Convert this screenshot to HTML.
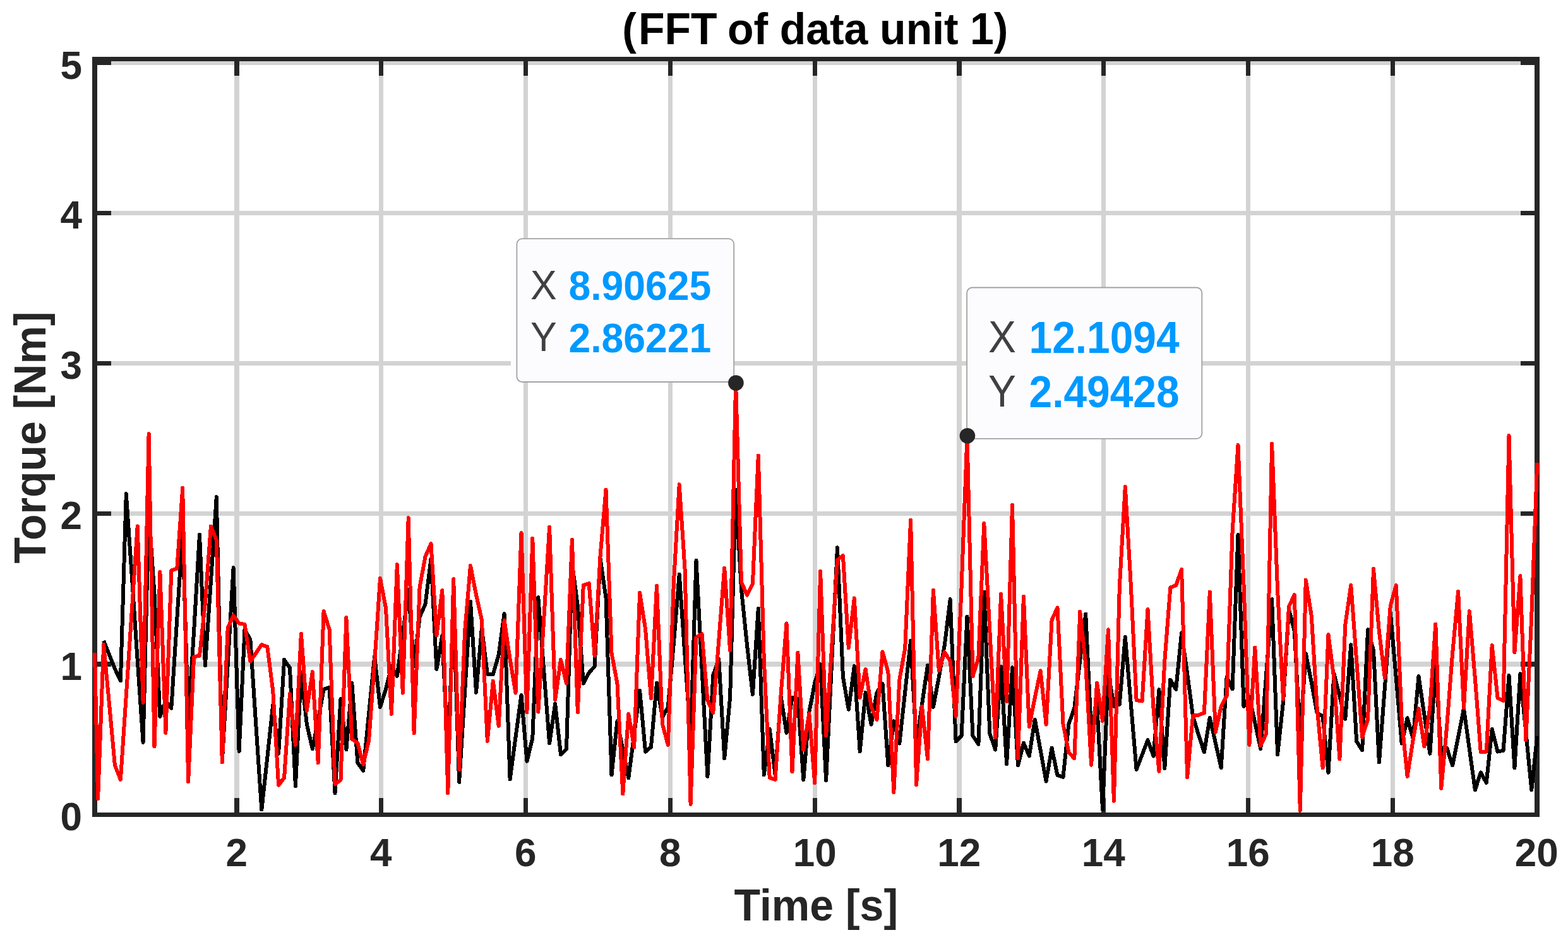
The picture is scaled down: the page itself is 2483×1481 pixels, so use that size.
<!DOCTYPE html>
<html lang="en"><head><meta charset="utf-8"><title>FFT of data unit 1</title>
<style>html,body{margin:0;padding:0;background:#fff}body{width:2483px;height:1481px;overflow:hidden}svg{display:block}text{font-family:"Liberation Sans",sans-serif}.b{font-weight:bold}</style>
</head><body>
<svg width="2483" height="1481" viewBox="0 0 2483 1481">
<rect width="2483" height="1481" fill="#fff"/>
<g shape-rendering="crispEdges">
<g fill="#D3D3D3">
<rect x="371" y="97" width="8" height="1190"/>
<rect x="600" y="97" width="7" height="1190"/>
<rect x="829" y="97" width="7" height="1190"/>
<rect x="1058" y="97" width="7" height="1190"/>
<rect x="1287" y="97" width="7" height="1190"/>
<rect x="1515" y="97" width="8" height="1190"/>
<rect x="1744" y="97" width="7" height="1190"/>
<rect x="1973" y="97" width="7" height="1190"/>
<rect x="2202" y="97" width="7" height="1190"/>
<rect x="154" y="97" width="2276" height="6"/>
<rect x="154" y="334" width="2276" height="7"/>
<rect x="154" y="572" width="2276" height="7"/>
<rect x="154" y="810" width="2276" height="7"/>
<rect x="154" y="1048" width="2276" height="8"/>
</g>
</g>
<g shape-rendering="crispEdges" fill="#262626">
<rect x="146" y="90" width="2292" height="7"/>
<rect x="146" y="1287" width="2292" height="7"/>
<rect x="146" y="90" width="8" height="1204"/>
<rect x="2430" y="90" width="8" height="1204"/>
<rect x="371" y="1264" width="8" height="23"/>
<rect x="371" y="97" width="8" height="23"/>
<rect x="600" y="1264" width="7" height="23"/>
<rect x="600" y="97" width="7" height="23"/>
<rect x="829" y="1264" width="7" height="23"/>
<rect x="829" y="97" width="7" height="23"/>
<rect x="1058" y="1264" width="7" height="23"/>
<rect x="1058" y="97" width="7" height="23"/>
<rect x="1287" y="1264" width="7" height="23"/>
<rect x="1287" y="97" width="7" height="23"/>
<rect x="1515" y="1264" width="8" height="23"/>
<rect x="1515" y="97" width="8" height="23"/>
<rect x="1744" y="1264" width="7" height="23"/>
<rect x="1744" y="97" width="7" height="23"/>
<rect x="1973" y="1264" width="7" height="23"/>
<rect x="1973" y="97" width="7" height="23"/>
<rect x="2202" y="1264" width="7" height="23"/>
<rect x="2202" y="97" width="7" height="23"/>
<rect x="154" y="97" width="22" height="6"/>
<rect x="2408" y="97" width="22" height="6"/>
<rect x="154" y="334" width="22" height="7"/>
<rect x="2408" y="334" width="22" height="7"/>
<rect x="154" y="572" width="22" height="7"/>
<rect x="2408" y="572" width="22" height="7"/>
<rect x="154" y="810" width="22" height="7"/>
<rect x="2408" y="810" width="22" height="7"/>
<rect x="154" y="1048" width="22" height="8"/>
<rect x="2408" y="1048" width="22" height="8"/>
</g>
<g fill="none" stroke-width="6" stroke-linejoin="round" stroke-linecap="butt" shape-rendering="crispEdges">
<polyline stroke="#000" points="164.1,1015.0 173.0,1037.1 181.9,1059.3 190.9,1078.4 199.8,782.3 208.8,912.5 217.7,1045.6 226.6,1175.8 235.6,810.0 244.5,941.0 253.4,1135.0 262.4,1110.0 271.3,1121.8 280.3,980.8 289.2,839.8 298.1,1140.0 307.1,1000.0 316.0,846.8 324.9,1054.0 333.9,921.0 342.8,787.3 351.8,1206.0 360.7,1052.6 369.6,899.2 378.6,1190.0 387.5,997.5 396.4,1013.0 405.4,1149.2 414.3,1282.5 423.3,1199.8 432.2,1117.0 441.1,1193.8 450.1,1045.0 459.0,1058.0 467.9,1245.0 476.9,1065.0 485.8,1147.0 494.8,1186.3 503.7,1140.7 512.6,1092.0 521.6,1088.6 530.5,1256.3 539.5,1107.0 548.4,1187.5 557.3,1082.0 566.3,1208.0 575.2,1220.8 584.1,1130.4 593.1,1040.0 602.0,1120.0 611.0,1092.0 619.9,1055.0 628.8,1071.0 637.8,1005.0 646.7,934.0 655.6,1055.0 664.6,977.0 673.5,957.0 682.5,885.0 691.4,1060.0 700.3,1007.0 709.3,1197.0 718.2,963.0 727.1,1238.8 736.1,1095.7 745.0,952.5 754.0,1096.9 762.9,995.0 771.8,1067.6 780.8,1068.0 789.7,1037.0 798.6,972.0 807.6,1234.3 816.5,1167.7 825.5,1101.0 834.4,1205.8 843.3,1169.3 852.3,946.2 861.2,1061.8 870.1,1177.5 879.1,1114.8 888.0,1195.0 897.0,1186.8 905.9,892.0 914.8,959.5 923.8,1082.6 932.7,1065.6 941.6,1055.6 950.6,885.0 959.5,947.0 968.5,1227.5 977.4,1142.3 986.3,1187.4 995.3,1232.5 1004.2,1163.0 1013.1,1093.6 1022.1,1190.8 1031.0,1183.0 1040.0,1081.9 1048.9,1136.3 1057.8,1120.0 1066.8,1020.0 1075.7,909.7 1084.6,1039.3 1093.6,1169.0 1102.5,887.7 1111.5,1058.8 1120.4,1230.0 1129.3,1069.4 1138.3,1043.7 1147.2,1201.3 1156.1,1105.0 1165.1,776.0 1174.0,934.0 1183.0,1022.0 1191.9,1100.0 1200.8,963.7 1209.8,1227.5 1218.7,1154.8 1227.6,1227.0 1236.6,1103.0 1245.5,1160.8 1254.5,1104.9 1263.4,1107.0 1272.3,1235.0 1281.3,1128.0 1290.2,1082.0 1299.1,1052.4 1308.1,1236.3 1317.0,1051.8 1326.0,867.3 1334.9,1072.0 1343.8,1123.8 1352.8,1055.0 1361.7,1190.5 1370.6,1096.9 1379.6,1147.6 1388.5,1097.0 1397.5,1082.9 1406.4,1212.5 1415.3,1142.3 1424.3,1177.6 1433.2,1096.3 1442.1,1015.0 1451.1,1177.0 1460.0,1116.0 1469.0,1053.6 1477.9,1120.0 1486.8,1072.5 1495.8,1022.0 1504.7,949.2 1513.6,1174.3 1522.6,1165.6 1531.5,976.7 1540.5,1165.6 1549.4,1178.8 1558.3,937.5 1567.3,1161.8 1576.2,1187.5 1585.1,1056.0 1594.1,1210.0 1603.0,1057.4 1612.0,1212.5 1620.9,1176.8 1629.8,1197.5 1638.8,1139.8 1647.7,1188.7 1656.6,1237.5 1665.6,1184.8 1674.5,1228.0 1683.5,1230.8 1692.4,1146.8 1701.3,1121.8 1710.3,1045.7 1719.2,972.5 1728.1,1159.0 1737.1,1115.0 1746.0,1282.5 1755.0,1065.0 1763.9,1118.8 1772.8,1115.6 1781.8,1008.7 1790.7,1113.8 1799.6,1218.8 1808.6,1195.5 1817.5,1172.3 1826.5,1197.5 1835.4,1092.4 1844.3,1217.0 1853.3,1076.6 1862.2,1091.9 1871.1,1002.4 1880.1,1066.7 1889.0,1134.0 1898.0,1164.2 1906.9,1191.3 1915.8,1136.8 1924.8,1176.5 1933.7,1216.3 1942.6,1072.4 1951.6,1091.4 1960.5,847.3 1969.5,1118.8 1978.4,1103.6 1987.3,1144.9 1996.3,1186.3 2005.2,1067.8 2014.1,949.2 2023.1,1195.0 2032.0,1112.0 2041.0,965.0 2049.9,1000.0 2058.8,1169.0 2067.8,1035.0 2076.7,1080.7 2085.6,1129.3 2094.6,1134.4 2103.5,1223.8 2112.4,1067.4 2121.4,1103.1 2130.3,1138.8 2139.3,1021.2 2148.2,1174.3 2157.1,1188.3 2166.1,997.4 2175.0,1030.0 2183.9,1207.5 2192.9,1088.8 2201.8,970.0 2210.8,1073.8 2219.7,1177.6 2228.6,1137.3 2237.6,1170.0 2246.5,1071.0 2255.4,1132.4 2264.4,1193.8 2273.3,1055.0 2282.3,1194.0 2291.2,1184.8 2300.1,1212.5 2309.1,1167.4 2318.0,1122.3 2326.9,1186.8 2335.9,1251.3 2344.8,1223.5 2353.8,1240.0 2362.7,1154.8 2371.6,1190.5 2380.6,1188.8 2389.5,1069.9 2398.4,1216.3 2407.4,1067.4 2416.3,1159.3 2425.3,1251.3 2434.2,1165.6"/>
<polyline stroke="#f00" points="150.0,1034.0 155.1,1265.0 164.1,1021.0 173.0,1115.0 181.9,1212.0 190.9,1235.0 199.8,1102.2 208.8,966.3 217.7,833.5 226.6,1113.0 235.6,687.0 244.5,1182.5 253.4,906.0 262.4,1161.0 271.3,903.7 280.3,900.5 289.2,773.0 298.1,1238.0 307.1,1040.0 316.0,1039.0 324.9,955.0 333.9,833.5 342.8,855.5 351.8,1207.5 360.7,994.4 369.6,975.0 378.6,987.4 387.5,989.0 396.4,1047.6 405.4,1034.4 414.3,1021.2 423.3,1024.4 432.2,1094.0 441.1,1243.8 450.1,1231.8 459.0,1099.0 467.9,1180.0 476.9,1003.7 485.8,1125.8 494.8,1064.1 503.7,1208.3 512.6,968.0 521.6,997.0 530.5,1242.0 539.5,1235.5 548.4,978.0 557.3,1170.6 566.3,1176.8 575.2,1210.8 584.1,1173.0 593.1,1050.0 602.0,916.0 611.0,963.0 619.9,1130.8 628.8,894.3 637.8,1097.6 646.7,820.3 655.6,1161.3 664.6,930.0 673.5,881.7 682.5,861.0 691.4,1006.4 700.3,935.0 709.3,1256.2 718.2,917.2 727.1,1218.8 736.1,1000.0 745.0,896.0 754.0,942.0 762.9,982.0 771.8,1173.8 780.8,1078.6 789.7,1150.0 798.6,982.5 807.6,1044.0 816.5,1097.6 825.5,844.0 834.4,1128.3 843.3,852.8 852.3,1127.6 861.2,981.2 870.1,834.8 879.1,1108.8 888.0,1045.0 897.0,1082.6 905.9,854.8 914.8,1128.3 923.8,927.0 932.7,924.0 941.6,1039.0 950.6,880.0 959.5,775.6 968.5,1034.4 977.4,1082.0 986.3,1257.5 995.3,1131.0 1004.2,1183.8 1013.1,938.7 1022.1,997.0 1031.0,1106.4 1040.0,927.5 1048.9,1146.8 1057.8,1180.0 1066.8,925.0 1075.7,767.3 1084.6,902.0 1093.6,1273.7 1102.5,1009.4 1111.5,1004.4 1120.4,1109.4 1129.3,1128.8 1138.3,1014.2 1147.2,899.7 1156.1,1030.2 1165.1,606.5 1174.0,922.0 1183.0,942.7 1191.9,925.0 1200.8,721.6 1209.8,1045.0 1218.7,1231.8 1227.6,1235.0 1236.6,1100.0 1245.5,987.5 1254.5,1222.5 1263.4,1033.7 1272.3,1187.5 1281.3,1129.8 1290.2,1240.0 1299.1,904.7 1308.1,1165.0 1317.0,1027.5 1326.0,887.0 1334.9,880.0 1343.8,1026.4 1352.8,947.5 1361.7,1105.0 1370.6,1060.0 1379.6,1119.4 1388.5,1140.0 1397.5,1032.4 1406.4,1064.4 1415.3,1255.0 1424.3,1077.0 1433.2,1027.0 1442.1,823.5 1451.1,1243.3 1460.0,1118.6 1469.0,1202.5 1477.9,935.0 1486.8,1061.9 1495.8,1033.0 1504.7,1047.0 1513.6,1135.0 1522.6,930.0 1531.5,690.3 1540.5,1071.4 1549.4,1042.0 1558.3,829.0 1567.3,998.3 1576.2,1167.6 1585.1,941.0 1594.1,1111.4 1603.0,799.8 1612.0,1201.3 1620.9,945.0 1629.8,1151.3 1638.8,1105.0 1647.7,1062.4 1656.6,1147.6 1665.6,982.0 1674.5,962.5 1683.5,1147.0 1692.4,1191.8 1701.3,1201.3 1710.3,968.7 1719.2,1052.0 1728.1,1211.8 1737.1,1081.9 1746.0,1142.0 1755.0,997.4 1763.9,1268.7 1772.8,930.0 1781.8,771.0 1790.7,925.0 1799.6,1108.9 1808.6,1110.6 1817.5,965.0 1826.5,1122.0 1835.4,1221.8 1844.3,1047.0 1853.3,930.7 1862.2,927.0 1871.1,902.0 1880.1,1231.3 1889.0,1133.6 1898.0,1132.6 1906.9,1129.3 1915.8,937.5 1924.8,1160.0 1933.7,1119.0 1942.6,1101.9 1951.6,842.0 1960.5,704.9 1969.5,926.0 1978.4,1180.0 1987.3,1025.7 1996.3,1181.3 2005.2,1161.8 2014.1,702.9 2023.1,935.0 2032.0,1107.6 2041.0,960.7 2049.9,942.0 2058.8,1283.7 2067.8,918.5 2076.7,975.0 2085.6,1120.0 2094.6,1216.3 2103.5,1005.0 2112.4,1075.0 2121.4,1202.5 2130.3,989.5 2139.3,927.0 2148.2,1047.0 2157.1,1167.6 2166.1,1139.3 2175.0,901.0 2183.9,1000.0 2192.9,1073.9 2201.8,959.5 2210.8,927.0 2219.7,1140.0 2228.6,1230.0 2237.6,1172.0 2246.5,1122.3 2255.4,1182.5 2264.4,1120.0 2273.3,988.7 2282.3,1248.7 2291.2,1150.0 2300.1,1035.0 2309.1,937.0 2318.0,1121.3 2326.9,968.0 2335.9,1075.0 2344.8,1191.3 2353.8,1190.5 2362.7,1022.0 2371.6,1105.6 2380.6,1110.0 2389.5,689.9 2398.4,1033.4 2407.4,912.2 2416.3,1172.5 2425.3,975.0 2434.2,733.0"/>
</g>
<g class="b" fill="#262626">
<text transform="translate(1290.3 69.9) scale(1 1.045)" font-size="68.0" text-anchor="middle" fill="#000" xml:space="preserve"><tspan dx="0.5">(</tspan><tspan dx="3.2">FFT</tspan><tspan dx="-2.4"> of</tspan><tspan dx="-0.5"> data</tspan><tspan dx="-0.2"> unit</tspan><tspan dx="-0.6"> 1)</tspan></text>
<text transform="translate(1292.3 1458.0) scale(1 1.045)" font-size="68.0" text-anchor="middle">Time [s]</text>
<text transform="translate(71.9 693.0) rotate(-90) scale(1 1.045)" font-size="68.0" text-anchor="middle">Torque [Nm]</text>
<text transform="translate(130.0 124.6) scale(1 1.020)" font-size="62.0" text-anchor="end">5</text>
<text transform="translate(130.0 362.1) scale(1 1.020)" font-size="62.0" text-anchor="end">4</text>
<text transform="translate(130.0 600.1) scale(1 1.020)" font-size="62.0" text-anchor="end">3</text>
<text transform="translate(130.0 838.1) scale(1 1.020)" font-size="62.0" text-anchor="end">2</text>
<text transform="translate(130.0 1076.6) scale(1 1.020)" font-size="62.0" text-anchor="end">1</text>
<text transform="translate(130.0 1315.1) scale(1 1.020)" font-size="62.0" text-anchor="end">0</text>
<text transform="translate(374.7 1371.9) scale(1 1.020)" font-size="62.0" text-anchor="middle">2</text>
<text transform="translate(603.2 1371.9) scale(1 1.020)" font-size="62.0" text-anchor="middle">4</text>
<text transform="translate(832.2 1371.9) scale(1 1.020)" font-size="62.0" text-anchor="middle">6</text>
<text transform="translate(1061.2 1371.9) scale(1 1.020)" font-size="62.0" text-anchor="middle">8</text>
<text transform="translate(1290.2 1371.9) scale(1 1.020)" font-size="62.0" text-anchor="middle">10</text>
<text transform="translate(1518.7 1371.9) scale(1 1.020)" font-size="62.0" text-anchor="middle">12</text>
<text transform="translate(1747.2 1371.9) scale(1 1.020)" font-size="62.0" text-anchor="middle">14</text>
<text transform="translate(1976.2 1371.9) scale(1 1.020)" font-size="62.0" text-anchor="middle">16</text>
<text transform="translate(2205.2 1371.9) scale(1 1.020)" font-size="62.0" text-anchor="middle">18</text>
<text transform="translate(2433.2 1371.9) scale(1 1.020)" font-size="62.0" text-anchor="middle">20</text>
</g>
<rect x="809.0" y="377.2" width="340.0" height="228.7" rx="10" fill="#FCFCFF"/>
<rect x="818.4" y="378.1" width="343.8" height="226.9" rx="8.5" fill="#FCFCFF" stroke="#A2A2A2" stroke-width="1.8"/>
<g fill="#404040">
<text transform="translate(840.0 474.1) scale(1 1.045)" font-size="62.5" text-anchor="start">X</text>
<text transform="translate(840.0 556.3) scale(1 1.045)" font-size="62.5" text-anchor="start">Y</text>
</g>
<g class="b" fill="#0099FF">
<text transform="translate(900.5 475.3) scale(1 1.045)" font-size="62.5" text-anchor="start">8.90625</text>
<text transform="translate(900.5 557.5) scale(1 1.045)" font-size="62.5" text-anchor="start">2.86221</text>
</g>
<circle cx="1165.4" cy="606.5" r="12.3" fill="#262626"/>
<rect x="1531.1" y="455.5" width="372.2" height="239.3" rx="8.5" fill="#FCFCFF" stroke="#A2A2A2" stroke-width="1.8"/>
<g fill="#404040">
<text transform="translate(1565.0 558.0) scale(1 1.055)" font-size="65.9" text-anchor="start">X</text>
<text transform="translate(1565.0 644.0) scale(1 1.055)" font-size="65.9" text-anchor="start">Y</text>
</g>
<g class="b" fill="#0099FF">
<text transform="translate(1629.5 559.2) scale(1 1.055)" font-size="65.9" text-anchor="start">12.1094</text>
<text transform="translate(1629.5 645.2) scale(1 1.055)" font-size="65.9" text-anchor="start">2.49428</text>
</g>
<circle cx="1531.9" cy="690.3" r="12.3" fill="#262626"/>
</svg>
</body></html>
